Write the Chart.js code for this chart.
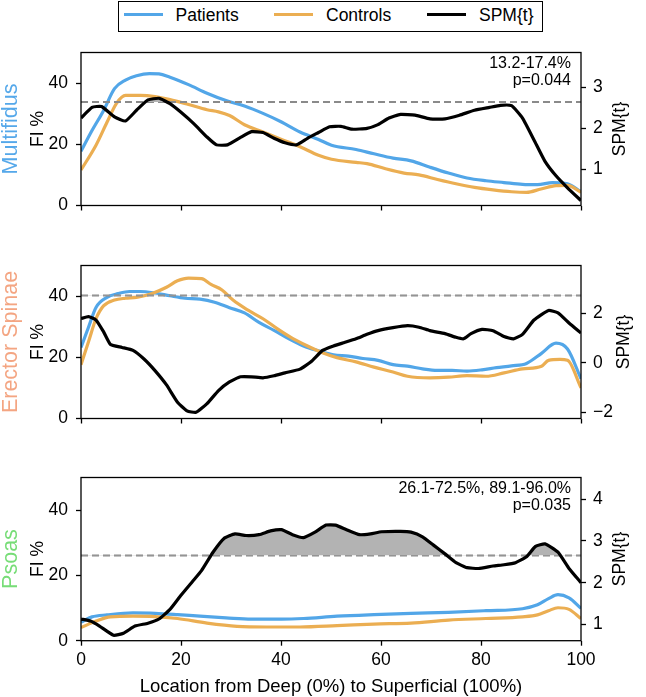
<!DOCTYPE html>
<html><head><meta charset="utf-8">
<script src="https://cdn.jsdelivr.net/npm/chart.js@4.4.1/dist/chart.umd.min.js"></script>
<style>
html,body{margin:0;padding:0;background:#fff;}
body{width:646px;height:697px;position:relative;overflow:hidden;font-family:"Liberation Sans",Arial,Helvetica,sans-serif;color:#000;}
canvas{position:absolute;left:0;}
.lab{position:absolute;white-space:nowrap;transform:translate(-50%,-50%) rotate(-90deg);line-height:1;}
.note{position:absolute;text-align:right;font-size:16px;line-height:16.5px;white-space:nowrap;}
#legend{position:absolute;box-sizing:border-box;left:118px;top:1px;width:425px;height:31px;border:1.6px solid #000;background:#fff;}
.li{position:absolute;height:3.4px;top:10.8px;width:39px;}
.lt{position:absolute;top:2.5px;font-size:17.5px;line-height:20px;white-space:nowrap;}
#xtitle{position:absolute;left:81px;width:500px;text-align:center;top:675px;font-size:18.5px;line-height:22px;white-space:nowrap;}
</style></head>
<body>
<div id="legend">
  <div class="li" style="left:4.5px;background:#52a6e8"></div><div class="lt" style="left:56.5px" id="lg0"></div>
  <div class="li" style="left:155px;background:#ebae52"></div><div class="lt" style="left:207px" id="lg1"></div>
  <div class="li" style="left:308px;background:#000"></div><div class="lt" style="left:360px" id="lg2"></div>
</div>
<canvas id="c0" width="646" height="190" style="top:34px"></canvas>
<canvas id="c1" width="646" height="190" style="top:247px"></canvas>
<canvas id="c2" width="646" height="238" style="top:459px"></canvas>
<div id="xtitle"></div>
<div id="labels"></div>
<script>
// ---------- data ----------
const seriesNames = ['Patients', 'Controls', 'SPM{t}'];
const muscleNames = ['Multifidus', 'Erector Spinae', 'Psoas'];
const locationTicks = [0, 20, 40, 60, 80, 100];
const fiTicks = [0, 20, 40];
const spmTicksMultifidus = [1, 2, 3];
const spmTicksErector = [-2, 0, 2];
const spmTicksPsoas = [1, 2, 3, 4];
const thresholds = [2.64, 2.72, 2.65];
const clusterNotes = [['13.2-17.4%', 'p=0.044'], null, ['26.1-72.5%, 89.1-96.0%', 'p=0.035']];
const xTitle = 'Location from Deep (0%) to Superficial (100%)';
const yTitle = 'FI %';
const y2Title = 'SPM{t}';

const multifidusPatients = [[0,17.7],[2.2,24.5],[4.5,31],[6.7,38.2],[8.9,41],[11.1,42.4],[13.7,43.1],[15.6,43],[17.8,41.9],[21.5,39.5],[25.2,36.7],[29,34.3],[32.7,32.5],[36.4,30.1],[40.1,27.3],[43.8,24],[47.5,21.6],[50.1,19.7],[55,18.3],[58.6,16.9],[62.4,15.5],[66,14.6],[69.8,12.5],[73.5,10.6],[77.2,9],[81,8.1],[84.6,7.5],[88.3,6.9],[91.3,6.8],[94.3,7.5],[97.3,7.1],[100,4.5]];
const multifidusControls = [[0,11.6],[3,19.7],[5.2,27.2],[7.1,33.4],[8.9,36],[11.9,36],[14.8,35.6],[17.8,34.6],[21.5,33],[25.2,31.3],[27.5,30.6],[29.7,29.4],[32.7,26.4],[36.4,24],[40.1,21.6],[43.8,19.2],[47.5,16.4],[50.1,15.1],[55,14.1],[57.2,13.7],[60.9,12],[64.6,10.6],[67.6,10],[71.3,8.5],[75,7.1],[78.7,5.9],[82.4,5.1],[86.1,4.5],[89.1,4.3],[92,5.4],[95,6.5],[97.3,6.6],[100,4.3]];
const multifidusSpm = [[0,2.25],[2.2,2.51],[4.1,2.53],[6.7,2.28],[8.9,2.18],[11.1,2.44],[13.4,2.69],[15.6,2.73],[17.8,2.6],[20,2.39],[22.6,2.11],[25.2,1.79],[27.1,1.6],[29.3,1.6],[31.9,1.78],[34.1,1.92],[36.4,1.9],[38.6,1.76],[40.8,1.65],[43.1,1.6],[45.3,1.76],[47.5,1.9],[49.7,2.04],[52,2.05],[54.2,1.98],[57.2,2.0],[59.4,2.09],[61.6,2.25],[63.9,2.34],[66.8,2.32],[69.8,2.23],[72.8,2.23],[75.7,2.32],[78.7,2.44],[81.7,2.51],[83.9,2.56],[86.1,2.55],[88.3,2.25],[90.6,1.72],[92.8,1.2],[95,0.85],[97.3,0.56],[100,0.25]];

const erectorPatients = [[0,23.2],[1.5,29.8],[3,36.3],[5.2,39.6],[7.4,40.8],[9.7,41.5],[11.9,41.5],[14.8,41],[17.8,40.1],[20.8,39.3],[23.8,39],[26.7,38],[29.7,36.2],[32.7,34.5],[35.6,31.4],[38.6,28.8],[41.6,26],[44.5,23.7],[47.5,22.1],[50.5,20.8],[53.5,20.4],[56.4,19.6],[59.4,19],[62.4,17.6],[65.3,17.1],[68.3,16.2],[71.3,15.7],[74.2,15.7],[77.2,15.5],[80.2,15.9],[83.1,16.6],[86.1,17.2],[89.1,18],[92.1,21.3],[95,24.6],[97.3,22.7],[100,13]];
const erectorControls = [[0,17.6],[1.5,25.1],[3,32.6],[4.5,36.8],[6.7,38.7],[8.9,39.3],[11.1,39.6],[14.1,40.8],[17.1,42.9],[19.3,45],[21.5,45.9],[24.1,45.7],[26,43.8],[28.2,42],[30.4,38.7],[33.4,35.4],[36.4,32.6],[39.3,29.3],[42.3,26.2],[45.3,23.7],[48.3,21.5],[51.2,19.9],[55,18.5],[58.6,16.8],[62.4,15.2],[65.3,13.8],[69.8,13.3],[73.5,13.5],[77.2,14],[81,13.8],[84.6,14.9],[88.3,16.2],[92.1,17.1],[93.5,19],[95.8,19.3],[97.3,19],[100,10]];
const erectorSpm = [[0,1.79],[1.5,1.87],[3,1.73],[4.5,1.26],[5.9,0.74],[8.2,0.62],[10.4,0.5],[12.6,0.15],[14.8,-0.32],[17.1,-0.9],[19.3,-1.6],[21.2,-1.95],[23,-2.01],[25.2,-1.66],[27.5,-1.13],[29.7,-0.78],[31.9,-0.57],[34.1,-0.57],[36.4,-0.61],[38.6,-0.53],[40.8,-0.41],[43.8,-0.26],[46,0.04],[48.3,0.5],[50.5,0.68],[52.7,0.82],[55,0.97],[57.2,1.15],[59.4,1.3],[62.4,1.42],[65.3,1.5],[67.6,1.44],[69.8,1.3],[72.8,1.18],[75,1.03],[76.5,0.97],[78,1.18],[80.2,1.35],[82.4,1.3],[84.6,1.06],[86.5,0.97],[88.3,1.15],[90.6,1.73],[93.5,2.12],[95.4,2.02],[97.6,1.61],[100,1.2]];

const psoasPatients = [[0,5.7],[2.2,7.3],[5.2,7.9],[10.4,8.5],[14.8,8.4],[19.3,8],[23.8,7.5],[29,7],[34.1,6.6],[40.1,6.6],[44.5,6.8],[51.2,7.5],[58.6,8],[66,8.4],[73.5,8.7],[81,9.2],[88.3,9.8],[91.3,11],[93.5,12.9],[95.4,14.1],[97.6,13.1],[100,9.9]];
const psoasControls = [[0,4],[3,6],[5.9,7.3],[10.4,7.5],[14.8,7.4],[19.3,6.8],[25.2,5.4],[31.2,4.4],[37.1,4.2],[43.8,4.2],[51.2,4.6],[58.6,5.1],[66,5.4],[73.5,6.3],[81,6.8],[88.3,7.3],[91.3,7.9],[93.5,9.2],[95.4,10.1],[97.6,9.6],[100,6.8]];
const psoasSpm = [[0,1.13],[1.9,1.08],[3.7,0.96],[6.5,0.74],[8.5,0.79],[10.8,0.96],[13.4,1.03],[15.6,1.13],[17.8,1.36],[20,1.7],[22.3,2.03],[24.1,2.29],[26.4,2.73],[28.6,3.06],[30.8,3.17],[33,3.13],[35.6,3.15],[37.9,3.24],[40.1,3.27],[42.3,3.15],[44.5,3.08],[46.8,3.21],[49,3.38],[50.9,3.38],[53.1,3.27],[55.7,3.15],[57.9,3.17],[60.1,3.22],[63.9,3.23],[66,3.21],[68.3,3.1],[70.5,2.9],[72.8,2.69],[75,2.48],[77.2,2.36],[79.5,2.34],[82.4,2.4],[84.6,2.43],[86.9,2.48],[89.1,2.62],[90.9,2.87],[92.8,2.93],[95.4,2.73],[97.6,2.34],[100,2.0]];

// ---------- styling / layout ----------
const BLUE = '#52a6e8', ORANGE = '#ebae52';
const muscleColors = ['#55a8ea', '#f4a582', '#77dd77'];
const FONT = '"Liberation Sans", Arial, Helvetica, sans-serif';
const TICK_FONT = {family: FONT, size: 17.5};
const panels = [
  {id:'c0', canvasTop:34, padTop:5.5, xh:8.3, y2x:620, patients:multifidusPatients, controls:multifidusControls, spm:multifidusSpm, spmTicks:spmTicksMultifidus, spmMin:0.13, spmMax:3.84, showX:false},
  {id:'c1', canvasTop:247, padTop:5.3, xh:8, y2x:624, patients:erectorPatients, controls:erectorControls, spm:erectorSpm, spmTicks:spmTicksErector, spmMin:-2.26, spmMax:3.94, showX:false},
  {id:'c2', canvasTop:459, padTop:5, xh:56.3, y2x:620, patients:psoasPatients, controls:psoasControls, spm:psoasSpm, spmTicks:spmTicksPsoas, spmMin:0.61, spmMax:4.52, showX:true}
];

document.getElementById('lg0').textContent = seriesNames[0];
document.getElementById('lg1').textContent = seriesNames[1];
document.getElementById('lg2').textContent = seriesNames[2];
document.getElementById('xtitle').textContent = xTitle;

const framePlugin = {
  id: 'frame',
  afterDraw(chart) {
    const {ctx, chartArea: a} = chart;
    ctx.save();
    ctx.strokeStyle = '#000';
    ctx.lineWidth = 1.3;
    ctx.strokeRect(a.left, a.top, a.right - a.left, a.bottom - a.top);
    ctx.restore();
  }
};

function pts(arr) { return arr.map(p => ({x: p[0], y: p[1]})); }
function fmt(v) { return v < 0 ? '\u2212' + Math.abs(v) : String(v); }
const gridOpts = {display:true, drawOnChartArea:false, drawTicks:true, tickLength:5, tickColor:'#000', tickWidth:1.3};

const labelsDiv = document.getElementById('labels');
function addLabel(text, cx, cy, size, color) {
  const d = document.createElement('div');
  d.className = 'lab';
  d.textContent = text;
  d.style.left = cx + 'px'; d.style.top = cy + 'px';
  d.style.fontSize = size + 'px'; d.style.color = color;
  labelsDiv.appendChild(d);
}

panels.forEach((p, i) => {
  const thr = thresholds[i];
  const chart = new Chart(document.getElementById(p.id), {
    type: 'line',
    data: { datasets: [
      {label: seriesNames[2], data: pts(p.spm), yAxisID: 'y1', borderColor: '#000', borderWidth: 3.2, pointRadius: 0, tension: 0.15, order: 0,
       fill: {target: {value: thr}, above: '#b3b3b3', below: 'rgba(0,0,0,0)'}},
      {label: 'threshold', data: [{x: 0, y: thr}, {x: 100, y: thr}], yAxisID: 'y1', borderColor: '#8a8a8a', borderWidth: 2, borderDash: [7, 4], pointRadius: 0, order: 1, fill: false},
      {label: seriesNames[1], data: pts(p.controls), yAxisID: 'y', borderColor: ORANGE, borderWidth: 3.2, pointRadius: 0, cubicInterpolationMode: 'monotone', order: 2, fill: false},
      {label: seriesNames[0], data: pts(p.patients), yAxisID: 'y', borderColor: BLUE, borderWidth: 3.2, pointRadius: 0, cubicInterpolationMode: 'monotone', order: 3, fill: false}
    ]},
    options: {
      responsive: false, animation: false, devicePixelRatio: 1,
      layout: {padding: {top: p.padTop, bottom: 0, left: 0, right: 0}},
      plugins: {legend: {display: false}, tooltip: {enabled: false}},
      scales: {
        x: {type: 'linear', position: 'bottom', min: 0, max: 100,
            afterBuildTicks: s => { s.ticks = locationTicks.map(v => ({value: v})); },
            afterFit: s => { s.height = p.xh; },
            ticks: {display: p.showX, color: '#000', font: TICK_FONT, padding: 4, maxRotation: 0},
            grid: gridOpts, border: {display: false}},
        y: {type: 'linear', position: 'left', min: 0, max: 50,
            afterBuildTicks: s => { s.ticks = fiTicks.map(v => ({value: v})); },
            afterFit: s => { s.width = 81; },
            ticks: {color: '#000', font: TICK_FONT, padding: 8},
            grid: gridOpts, border: {display: false}},
        y1: {type: 'linear', position: 'right', min: p.spmMin, max: p.spmMax,
            afterBuildTicks: s => { s.ticks = p.spmTicks.map(v => ({value: v})); },
            afterFit: s => { s.width = 65; },
            ticks: {color: '#000', font: TICK_FONT, padding: 7, callback: v => fmt(v)},
            grid: gridOpts, border: {display: false}}
      }
    },
    plugins: [framePlugin]
  });
  const a = chart.chartArea;
  const top = p.canvasTop + a.top, bottom = p.canvasTop + a.bottom, mid = (top + bottom) / 2;
  addLabel(muscleNames[i], 11, mid, 21.5, muscleColors[i]);
  addLabel(yTitle, 37.5, mid, 17.5, '#000');
  addLabel(y2Title, p.y2x, mid, 17.5, '#000');
  const note = clusterNotes[i];
  if (note) {
    const d = document.createElement('div');
    d.className = 'note';
    d.style.right = (646 - 571) + 'px';
    d.style.top = (top + 2.5) + 'px';
    note.forEach(t => { const l = document.createElement('div'); l.textContent = t; d.appendChild(l); });
    labelsDiv.appendChild(d);
  }
});
</script>
</body></html>
